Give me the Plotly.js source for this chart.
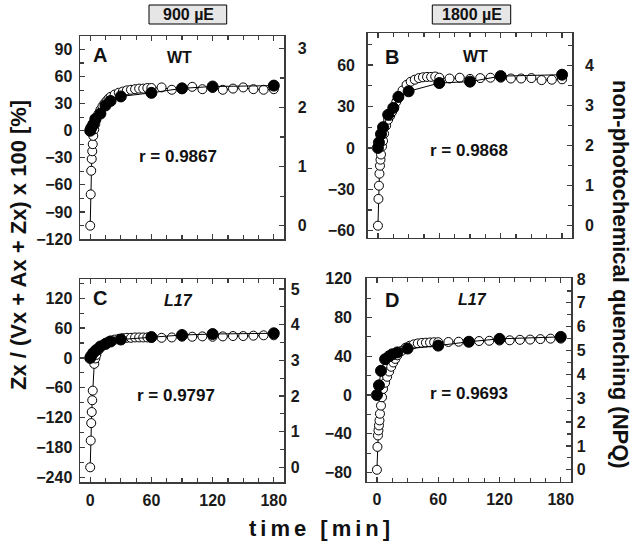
<!DOCTYPE html>
<html>
<head>
<meta charset="utf-8">
<script src="https://cdn.plot.ly/plotly-3.0.1.min.js"></script>
<style>html,body{margin:0;padding:0;background:#fff;}#chart{width:640px;height:550px;}</style>
</head>
<body>
<div id="chart"></div>
<script>
// ---------- data ----------
// NPQ time points (min), open circles (right axis)
const tOpenA = [0,0.5,1,1.5,2,2.5,3,4,5,6,8,10,12,14,16,18,20,24,28,32,36,40,44,48,52,56,60,70,80,90,100,110,120,130,140,150,160,170,180];
const npqA   = [0,0.53,0.93,1.13,1.26,1.38,1.52,1.63,1.72,1.79,1.89,1.96,2.02,2.07,2.11,2.15,2.18,2.22,2.25,2.27,2.29,2.30,2.31,2.32,2.32,2.33,2.33,2.34,2.30,2.31,2.35,2.31,2.33,2.30,2.32,2.34,2.31,2.30,2.31];
const tOpenB = tOpenA;
const npqB   = [0,0.67,1.0,1.3,1.5,1.65,1.78,1.98,2.12,2.3,2.5,2.65,2.75,2.85,2.98,3.1,3.2,3.38,3.52,3.6,3.65,3.69,3.71,3.72,3.72,3.73,3.70,3.68,3.70,3.67,3.69,3.70,3.70,3.68,3.68,3.69,3.64,3.65,3.66];
const tOpenC = [0,0.5,1,1.5,2,2.5,4,5,6,8,10,12,14,16,18,20,24,28,32,36,40,44,48,52,56,60,70,80,90,100,110,120,130,140,150,160,170,180];
const npqC   = [0,0.75,1.24,1.55,1.88,2.15,2.9,3.05,3.15,3.28,3.36,3.42,3.47,3.5,3.53,3.55,3.58,3.6,3.62,3.63,3.63,3.64,3.64,3.64,3.64,3.64,3.63,3.64,3.66,3.66,3.67,3.66,3.67,3.68,3.68,3.69,3.70,3.70];
const tOpenD = tOpenA;
const npqD   = [0,0.96,1.44,1.65,1.86,2.07,2.35,2.69,3.04,3.39,3.65,3.9,4.12,4.32,4.5,4.65,4.8,4.98,5.12,5.2,5.26,5.3,5.32,5.33,5.34,5.35,5.35,5.36,5.37,5.38,5.40,5.41,5.42,5.43,5.45,5.46,5.48,5.50,5.50];

// Zx / (Vx + Ax + Zx) x 100, filled circles (left axis)
const tFillA = [0,1,3,5,10,15,20,30,60,90,120,180];
const zxA    = [0,3,7,13,19,28,33,38,42,47,49,50];
const tFillB = [0,1,3,5,10,15,20,30,60,90,120,180];
const zxB    = [0,4,10,15,24,29,37,41,47,48,52,53];
const tFillC = [0,1,3,6,10,15,20,30,60,90,120,180];
const zxC    = [0,4,10,16,23,28,33,37,42,46,48,49.5];
const tFillD = [0,2,4,8,12,15,20,30,60,90,120,180];
const zxD    = [0,10,25,37,40,42,44,48,51,55,58,60];

const panelLetters = ['A','B','C','D'];
const panelLines   = ['WT','WT','<i>L17</i>','<i>L17</i>'];
const rValues      = ['r = 0.9867','r = 0.9868','r = 0.9797','r = 0.9693'];
const lightLabels  = ['900 µE','1800 µE'];
const xTitle = 'time [min]';
const yLeftTitle = 'Zx / (Vx + Ax + Zx) x 100 [%]';
const yRightTitle = 'non-photochemical quenching (NPQ)';

// ---------- layout helpers ----------
const W = 640, H = 550;
const px = x => x / W;
const py = y => 1 - y / H;
const FONT = 'Liberation Sans, Arial, sans-serif';
const AX = '#3c3c3c';
const tickFont = {family: FONT, size: 16, weight: 'bold', color: '#1a1a1a'};

function xAxis(domain, showLabels, anchor) {
  return {domain: domain, anchor: anchor, range: [-10, 190], tick0: 0, dtick: 60,
    ticks: 'inside', ticklen: 5, tickwidth: 1.2, tickcolor: AX,
    minor: {ticks: 'inside', dtick: 15, ticklen: 4, tickwidth: 1.2, tickcolor: AX},
    showline: true, linecolor: AX, linewidth: 1.5, mirror: 'ticks',
    showgrid: false, zeroline: false, showticklabels: showLabels,
    tickfont: tickFont, ticklabelstandoff: 3};
}
function yRight(domain, anchor, range, dtick, minor, standoff) {
  return {domain: domain, anchor: anchor, side: 'right', range: range, tick0: 0, dtick: dtick,
    ticks: 'inside', ticklen: 5, tickwidth: 1.2, tickcolor: AX,
    minor: {ticks: 'inside', dtick: minor, ticklen: 4, tickwidth: 1.2, tickcolor: AX},
    showline: true, linecolor: AX, linewidth: 1.5, mirror: false,
    showgrid: false, zeroline: false, tickfont: tickFont, ticklabelstandoff: standoff};
}
function yLeft(over, anchor, range, dtick, minor, standoff) {
  return {overlaying: over, anchor: anchor, side: 'left', range: range, tick0: 0, dtick: dtick,
    ticks: 'inside', ticklen: 5, tickwidth: 1.2, tickcolor: AX,
    minor: {ticks: 'inside', dtick: minor, ticklen: 4, tickwidth: 1.2, tickcolor: AX},
    showline: true, linecolor: AX, linewidth: 1.5, mirror: false,
    showgrid: false, zeroline: false, tickfont: tickFont, ticklabelstandoff: standoff};
}

const openStyle = {mode: 'lines+markers', line: {color: '#000', width: 1},
  marker: {symbol: 'circle', size: 9, color: '#fff', line: {color: '#000', width: 1}}, showlegend: false, hoverinfo: 'skip'};
const fillStyle = {mode: 'lines+markers', line: {color: '#000', width: 1},
  marker: {symbol: 'circle', size: 11, color: '#000', line: {color: '#000', width: 1}}, showlegend: false, hoverinfo: 'skip'};

const traces = [
  Object.assign({x: tOpenA, y: npqA, xaxis: 'x',  yaxis: 'y'},  openStyle),
  Object.assign({x: tFillA, y: zxA,  xaxis: 'x',  yaxis: 'y2'}, fillStyle),
  Object.assign({x: tOpenB, y: npqB, xaxis: 'x2', yaxis: 'y3'}, openStyle),
  Object.assign({x: tFillB, y: zxB,  xaxis: 'x2', yaxis: 'y4'}, fillStyle),
  Object.assign({x: tOpenC, y: npqC, xaxis: 'x3', yaxis: 'y5'}, openStyle),
  Object.assign({x: tFillC, y: zxC,  xaxis: 'x3', yaxis: 'y6'}, fillStyle),
  Object.assign({x: tOpenD, y: npqD, xaxis: 'x4', yaxis: 'y7'}, openStyle),
  Object.assign({x: tFillD, y: zxD,  xaxis: 'x4', yaxis: 'y8'}, fillStyle)
];

const dA = {x: [px(80), px(284)],    y: [py(239), py(36)]};
const dB = {x: [px(367.7), px(572.3)], y: [py(237.7), py(33.3)]};
const dC = {x: [px(80), px(284)],    y: [py(482.3), py(279.3)]};
const dD = {x: [px(366.7), px(571)], y: [py(481.7), py(278.3)]};

function ann(text, x, y, size, extra) {
  return Object.assign({text: text, xref: 'paper', yref: 'paper', x: px(x), y: py(y),
    xanchor: 'center', yanchor: 'middle', showarrow: false,
    font: {family: FONT, size: size, weight: 'bold', color: '#111'}}, extra || {});
}

const annotations = [
  ann(panelLetters[0], 100, 55, 20), ann(panelLetters[1], 392, 56.7, 20),
  ann(panelLetters[2], 100, 298.3, 20), ann(panelLetters[3], 392, 300.3, 20),
  ann(panelLines[0], 179.7, 57.7, 16), ann(panelLines[1], 475.3, 56.7, 16),
  ann(panelLines[2], 178.5, 300, 16), ann(panelLines[3], 472, 299.5, 16),
  ann(rValues[0], 177.7, 156, 17), ann(rValues[1], 469, 150.3, 17),
  ann(rValues[2], 176.3, 395.5, 17), ann(rValues[3], 469, 393, 17),
  ann(lightLabels[0], 188, 14.5, 16), ann(lightLabels[1], 471.5, 14.5, 16),
  ann(xTitle, 321, 528, 22),
  ann(yLeftTitle, 18, 245, 22, {textangle: -90}),
  ann(yRightTitle, 621, 274, 22, {textangle: 90})
];

const shapes = [
  {type: 'rect', xref: 'paper', yref: 'paper', x0: px(149), x1: px(226.7), y0: py(24), y1: py(5),
   fillcolor: '#e6e6e6', line: {color: '#000', width: 1}, layer: 'below'},
  {type: 'rect', xref: 'paper', yref: 'paper', x0: px(432.3), x1: px(510.7), y0: py(24), y1: py(5),
   fillcolor: '#e6e6e6', line: {color: '#000', width: 1}, layer: 'below'}
];

const layout = {
  width: W, height: H, margin: {l: 0, r: 0, t: 0, b: 0},
  paper_bgcolor: '#fff', plot_bgcolor: 'rgba(0,0,0,0)', showlegend: false,
  xaxis:  xAxis(dA.x, false, 'y'),
  xaxis2: xAxis(dB.x, false, 'y3'),
  xaxis3: xAxis(dC.x, true, 'y5'),
  xaxis4: xAxis(dD.x, true, 'y7'),
  yaxis:  yRight(dA.y, 'x',  [-0.225, 3.21], 1, 0.5, 9),
  yaxis2: yLeft('y',  'x',  [-120, 105], 30, 15, 3),
  yaxis3: yRight(dB.y, 'x2', [-0.3, 4.81], 1, 0.5, 8),
  yaxis4: yLeft('y3', 'x2', [-65, 83], 30, 15, 8),
  yaxis5: yRight(dC.y, 'x3', [-0.42, 5.27], 1, 0.5, 2),
  yaxis6: yLeft('y5', 'x3', [-250, 158], 60, 30, 3),
  yaxis7: yRight(dD.y, 'x4', [-0.5, 8.03], 1, 0.5, 1),
  yaxis8: yLeft('y7', 'x4', [-89.5, 120.5], 40, 20, 10),
  annotations: annotations, shapes: shapes
};

Plotly.newPlot('chart', traces, layout, {displayModeBar: false, staticPlot: true}).then(function () {
  document.querySelectorAll('.annotation-text').forEach(function (el) {
    if (el.textContent === xTitle) el.style.letterSpacing = '4px';
  });
});
</script>
</body>
</html>
